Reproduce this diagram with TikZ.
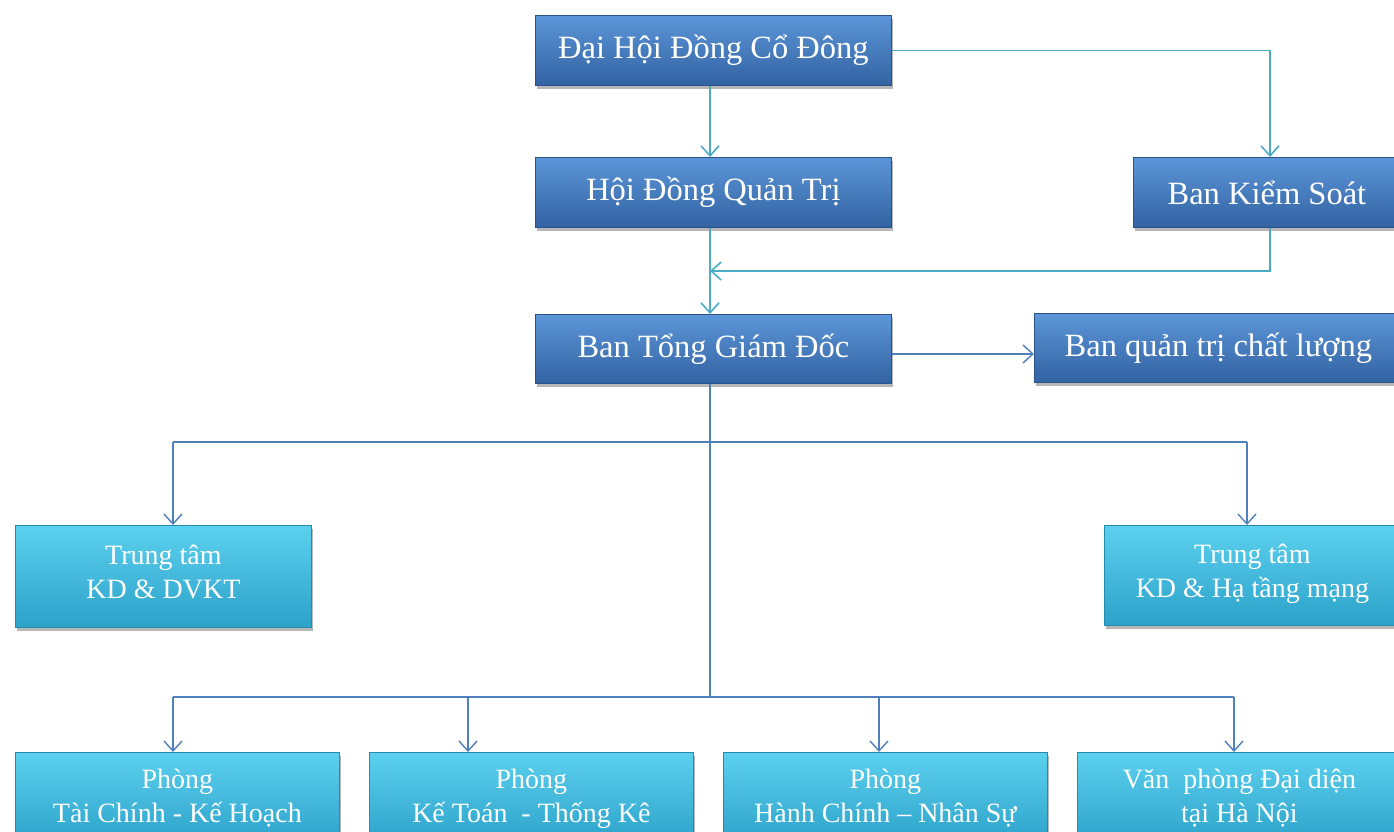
\documentclass[tikz,border=0pt]{standalone}
\usepackage{fontspec}
\setmainfont{Liberation Serif}
\usetikzlibrary{arrows.meta,shadows}
\definecolor{dbtop}{RGB}{92,150,216}
\definecolor{dbbot}{RGB}{50,98,162}
\definecolor{lbtop}{RGB}{92,208,238}
\definecolor{lbbot}{RGB}{44,162,202}
\definecolor{tealln}{RGB}{75,172,198}
\definecolor{blueln}{RGB}{79,129,189}
\begin{document}
\begin{tikzpicture}[x=1pt,y=-1pt,
  basebox/.style={rectangle, anchor=north west, inner sep=0pt, text=white, align=center,
    drop shadow={shadow xshift=2pt, shadow yshift=-4pt, opacity=0.4, fill=black!70}},
  dbox/.style={basebox, draw=dbbot!85!black, line width=0.8pt, top color=dbtop, bottom color=dbbot,
    font=\fontsize{32.5}{38}\selectfont, minimum height=70pt},
  lbox/.style={basebox, draw=lbbot!85!black, line width=0.8pt, top color=lbtop, bottom color=lbbot,
    font=\fontsize{28}{34}\selectfont},
  tline/.style={draw=tealln, line width=1.6pt},
  bline/.style={draw=blueln, line width=1.4pt},
  tarr/.style={tline, -{Straight Barb[length=10pt,width=18pt,line width=1.6pt]}},
  barr/.style={bline, -{Straight Barb[length=10pt,width=18pt,line width=1.4pt]}}
]
\useasboundingbox (0,0) rectangle (1394,832);
\clip (0,0) rectangle (1394,832);
\fill[white] (0,0) rectangle (1394,832);

% top level
\node[dbox, minimum width=356pt] (dh) at (535,15) {Đại Hội Đồng Cổ Đông};
\node[dbox, minimum width=356pt] (hd) at (535,157) {Hội Đồng Quản Trị};
\node[dbox, minimum width=267pt] (bks) at (1133,157) {Ban Kiểm Soát};
\node[dbox, minimum width=356pt, minimum height=69pt] (bt) at (535,314) {Ban Tổng Giám Đốc};
\node[dbox, minimum width=368pt, minimum height=69pt] (bq) at (1034,313) {Ban quản trị chất lượng};

% centres
\node[lbox, minimum width=296pt, minimum height=102pt, text depth=10pt] (t1) at (15,525) {Trung tâm\\KD \& DVKT};
\node[lbox, minimum width=296pt, minimum height=100pt, text depth=10pt] (t2) at (1104,525) {Trung tâm\\KD \& Hạ tầng mạng};

% departments
\node[lbox, minimum width=324pt, minimum height=92pt] (p1) at (15,752) {Phòng\\Tài Chính - Kế Hoạch};
\node[lbox, minimum width=324pt, minimum height=92pt] (p2) at (369,752) {Phòng\\Kế Toán \ - Thống Kê};
\node[lbox, minimum width=324pt, minimum height=92pt] (p3) at (723,752) {Phòng\\Hành Chính – Nhân Sự};
\node[lbox, minimum width=324pt, minimum height=92pt] (p4) at (1077,752) {Văn \ phòng Đại diện\\tại Hà Nội};

% connectors (top)
\coordinate (cx) at (710,0);
\draw[tarr] (dh.south -| cx) -- (hd.north -| cx);
\coordinate (bk) at (1270,0);
\draw[tarr] (dh.east) -| (bks.north -| bk);
\draw[tarr] (hd.south -| cx) -- (bt.north -| cx);
\coordinate (mid) at (710,271);
\draw[tarr] (bks.south -| bk) |- (mid);
\coordinate (bqy) at (0,354);
\draw[barr] (bt.east |- bqy) -- (bq.west |- bqy);

% tree
\coordinate (j2) at (710,697);
\draw[bline] (bt.south -| cx) -- (j2);
\coordinate (a1) at (173,442);
\coordinate (a2) at (1247,442);
\draw[bline] (a1) -- (a2);
\draw[barr] (a1) -- (a1 |- t1.north);
\draw[barr] (a2) -- (a2 |- t2.north);
\coordinate (b1) at (173,697);
\coordinate (b2) at (468,697);
\coordinate (b3) at (879,697);
\coordinate (b4) at (1234,697);
\draw[bline] (b1) -- (b4);
\draw[barr] (b1) -- (b1 |- p1.north);
\draw[barr] (b2) -- (b2 |- p2.north);
\draw[barr] (b3) -- (b3 |- p3.north);
\draw[barr] (b4) -- (b4 |- p4.north);
\end{tikzpicture}
\end{document}
